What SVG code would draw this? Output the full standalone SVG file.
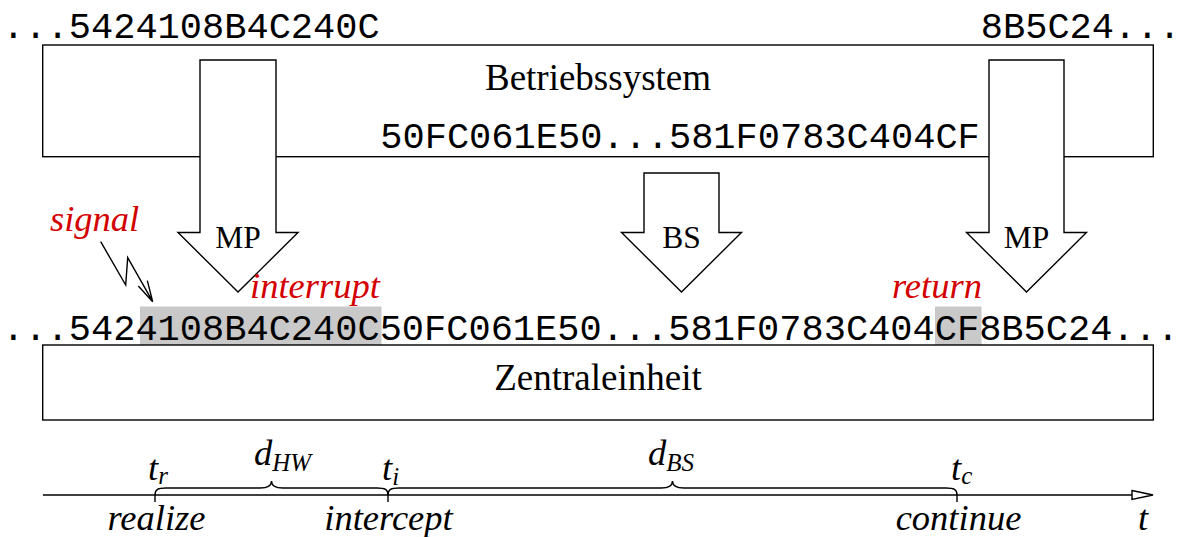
<svg xmlns="http://www.w3.org/2000/svg" width="1181" height="537" viewBox="0 0 1181 537">
<style>
.mono{font-family:"Liberation Mono","Courier New",monospace;font-size:37px;fill:#000}
.serif{font-family:"Liberation Serif","Times New Roman",serif;font-size:37px;fill:#000}
.lbl{font-family:"Liberation Serif","Times New Roman",serif;font-size:31.5px;fill:#000;text-anchor:middle}
.it{font-family:"Liberation Serif","Times New Roman",serif;font-style:italic;font-size:36.5px;fill:#000}
.red{fill:#d40000}
.box{fill:#fff;stroke:#000;stroke-width:1.4}
.ln{fill:none;stroke:#000;stroke-width:1.4}
.hl{fill:#c9c9c9}
</style>
<defs>
<path id="bigarrow" d="M-38,0 H37 V172.5 H60 L0,232 L-60,172.5 H-38 Z"/>
</defs>

<g id="os-box">
<rect class="box" x="42.7" y="45" width="1110.6" height="111.7"/>
<text class="serif" x="598" y="90" text-anchor="middle">Betriebssystem</text>
<text class="mono" x="2.2" y="37.5">...5424108B4C240C</text>
<text class="mono" x="980.8" y="37.5">8B5C24...</text>
<text class="mono" x="380.3" y="148">50FC061E50...581F0783C404CF</text>
</g>

<g id="arrow-mp-left">
<path class="box" d="M200,60 H276 V232.5 H298 L238,292 L178,232.5 H200 Z"/>
<text class="lbl" x="238" y="248">MP</text>
</g>

<g id="arrow-bs">
<path class="box" d="M644,173 H719 V232.5 H741.5 L681.5,292 L621.5,232.5 H644 Z"/>
<text class="lbl" x="681.5" y="248">BS</text>
</g>

<g id="arrow-mp-right">
<path class="box" d="M989,60 H1064 V232.5 H1086.5 L1026.5,292 L966.5,232.5 H989 Z"/>
<text class="lbl" x="1026.5" y="248">MP</text>
</g>

<g id="instruction-stream">
<rect class="hl" x="140" y="306.5" width="241.5" height="38.5"/>
<rect class="hl" x="935" y="306.5" width="46.5" height="38.5"/>
<text class="mono" x="2.2" y="340">...5424108B4C240C50FC061E50...581F0783C404CF8B5C24...</text>
</g>

<g id="cpu-box">
<rect class="box" x="42.7" y="345" width="1110.6" height="75"/>
<text class="serif" x="598" y="390" text-anchor="middle">Zentraleinheit</text>
</g>

<g id="events">
<text class="it red" x="50" y="231">signal</text>
<text class="it red" x="250" y="298">interrupt</text>
<text class="it red" x="892" y="298">return</text>
</g>

<g id="connectors">
<path class="ln" d="M100.7,241.7 L125.7,285 L127.7,257.7 L152.7,301.7 M138.3,286 L152.7,301.7 L147.3,280.7"/>
</g>

<g id="timeline">
<path class="ln" d="M42.9,495 H1132"/>
<polygon class="box" points="1132,490.5 1153,495 1132,499.5"/>
<path class="ln" d="M155,495 V502 M388,495 V502 M957,495 V502"/>
<path class="ln" d="M155,495 C155,489.5 158,488 166,488 L260,488 C268,488 271.5,486 271.5,481 C271.5,486 275,488 283,488 L377,488 C385,488 388,489.5 388,495"/>
<path class="ln" d="M388,495 C388,489.5 391,488 399,488 L661,488 C669,488 672.5,486 672.5,481 C672.5,486 676,488 684,488 L946,488 C954,488 957,489.5 957,495"/>
<text class="it" x="148" y="480">t<tspan font-size="25" dy="4">r</tspan></text>
<text class="it" x="254" y="465">d<tspan font-size="25" dy="6">HW</tspan></text>
<text class="it" x="382" y="480">t<tspan font-size="25" dy="5">i</tspan></text>
<text class="it" x="648" y="465">d<tspan font-size="25" dy="6">BS</tspan></text>
<text class="it" x="951" y="480">t<tspan font-size="25" dy="4">c</tspan></text>
<text class="it" x="156.5" y="530" text-anchor="middle">realize</text>
<text class="it" x="388.5" y="530" text-anchor="middle">intercept</text>
<text class="it" x="958.5" y="530" text-anchor="middle">continue</text>
<text class="it" x="1143" y="530" text-anchor="middle">t</text>
</g>
</svg>
